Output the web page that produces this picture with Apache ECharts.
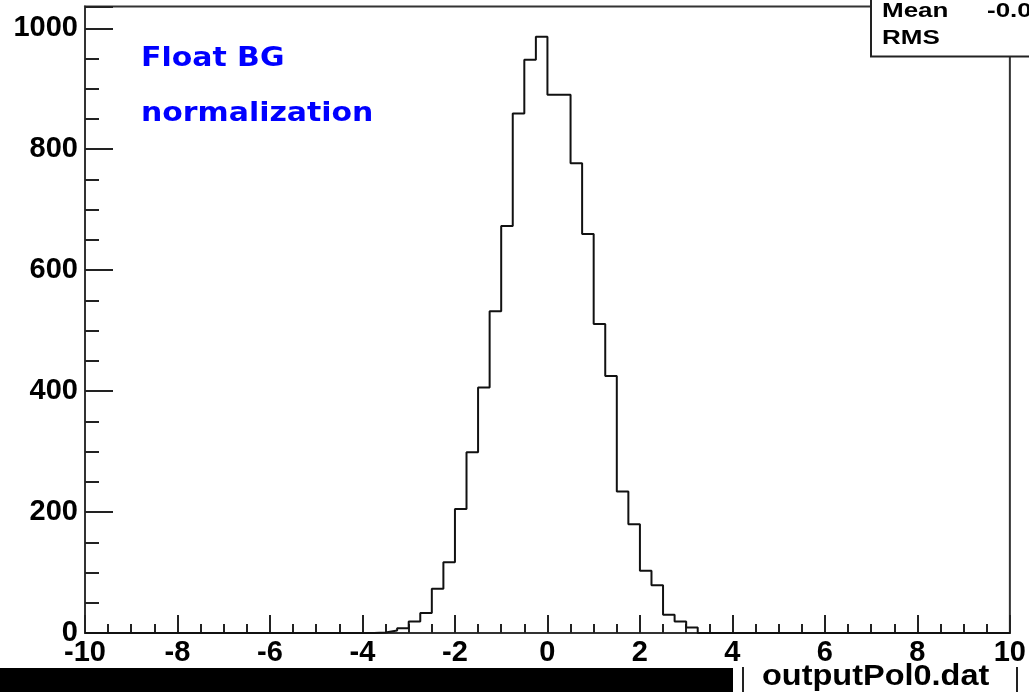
<!DOCTYPE html>
<html>
<head>
<meta charset="utf-8">
<script src="https://cdn.jsdelivr.net/npm/echarts@6/dist/echarts.min.js"></script>
<style>
html,body{margin:0;padding:0;background:#fff;}
#chart{width:1029px;height:692px;}
</style>
</head>
<body>
<div id="chart"></div>
<script>
// Histogram definition
const xRange = [-10, 10];
const binWidth = 0.25;
const yTicks = [0, 200, 400, 600, 800, 1000];
const xTicks = [-10, -8, -6, -4, -2, 0, 2, 4, 6, 8, 10];
// 80 bin counts, from [-10,-9.75] to [9.75,10]
const counts = [
  0,0,0,0,0,0,0,0,0,0,
  0,0,0,0,0,0,0,0,0,0,
  0,0,0,0,0,1,4,8,19,33,
  73,117,205,299,406,532,673,859,948,986,
  890,890,777,660,511,425,234,180,103,79,
  30,19,9,0,0,0,0,0,0,0,
  0,0,0,0,0,0,0,0,0,0,
  0,0,0,0,0,0,0,0,0,0
];
const annotationLines = ['Float BG', 'normalization'];
const statsLabels = ['Mean', 'RMS'];
const statsValues = ['-0.0', ''];
const histTitle = 'outputPol0.dat';

const edges = counts.map((c, i) => xRange[0] + i * binWidth);
const stepData = edges.map((e, i) => [e, counts[i]]);
stepData.push([xRange[1], counts[counts.length - 1]]);

const chart = echarts.init(document.getElementById('chart'), null, {renderer: 'canvas'});
const labelFont = {fontFamily: 'Liberation Sans', fontWeight: 'bold', fontSize: 29, color: '#000'};

chart.setOption({
  animation: false,
  backgroundColor: '#fff',
  grid: {left: 85, right: 18, top: 6.5, bottom: 59, show: true, borderColor: '#333', borderWidth: 2, containLabel: false},
  xAxis: {
    type: 'value', min: xRange[0], max: xRange[1], interval: 2,
    axisLine: {show: true, onZero: false, lineStyle: {color: '#333', width: 2}},
    axisTick: {show: true, inside: true, length: 18, lineStyle: {color: '#222', width: 2}},
    minorTick: {show: true, splitNumber: 4, length: 9, lineStyle: {color: '#222', width: 2}},
    splitLine: {show: false},
    axisLabel: Object.assign({margin: 5, formatter: v => xTicks.includes(v) ? String(v) : ''}, labelFont)
  },
  yAxis: {
    type: 'value', min: 0, max: 1036, interval: 200, position: 'left',
    axisLine: {show: true, onZero: false, lineStyle: {color: '#333', width: 2}},
    axisTick: {show: true, inside: true, length: 28, lineStyle: {color: '#222', width: 2}},
    minorTick: {show: true, splitNumber: 4, length: 14, lineStyle: {color: '#222', width: 2}},
    splitLine: {show: false},
    axisLabel: Object.assign({margin: 7, showMaxLabel: false, formatter: v => yTicks.includes(v) ? String(v) : ''}, labelFont)
  },
  series: [{
    type: 'line', step: 'end', data: stepData, symbol: 'none',
    lineStyle: {color: '#111', width: 2}, z: 3
  }],
  graphic: [
    {type: 'text', x: 141, y: 46, scaleX: 1.15, z: 10, style: {text: annotationLines[0], fill: '#0000ff', font: 'bold 26px "DejaVu Sans"'}},
    {type: 'text', x: 141, y: 101, scaleX: 1.15, z: 10, style: {text: annotationLines[1], fill: '#0000ff', font: 'bold 26px "DejaVu Sans"'}},
    {type: 'rect', z: 20, shape: {x: 871, y: -4, width: 200, height: 60.5}, style: {fill: '#fff', stroke: '#222', lineWidth: 2}},
    {type: 'text', z: 21, x: 882, y: 1, scaleX: 1.3, style: {text: statsLabels[0], fill: '#000', font: 'bold 20px "Liberation Sans"'}},
    {type: 'text', z: 21, x: 882, y: 28, scaleX: 1.3, style: {text: statsLabels[1], fill: '#000', font: 'bold 20px "Liberation Sans"'}},
    {type: 'text', z: 21, x: 987, y: 1, scaleX: 1.3, style: {text: statsValues[0], fill: '#000', font: 'bold 20px "Liberation Sans"'}},
    {type: 'rect', z: 20, shape: {x: 0, y: 668, width: 733, height: 30}, style: {fill: '#000'}},
    {type: 'rect', z: 20, shape: {x: 742, y: 667, width: 2, height: 30}, style: {fill: '#222'}},
    {type: 'rect', z: 20, shape: {x: 1016, y: 667, width: 2, height: 30}, style: {fill: '#222'}},
    {type: 'text', z: 21, x: 762, y: 662, scaleX: 1.12, style: {text: histTitle, fill: '#000', font: 'bold 29px "Liberation Sans"'}}
  ]
});
</script>
</body>
</html>
